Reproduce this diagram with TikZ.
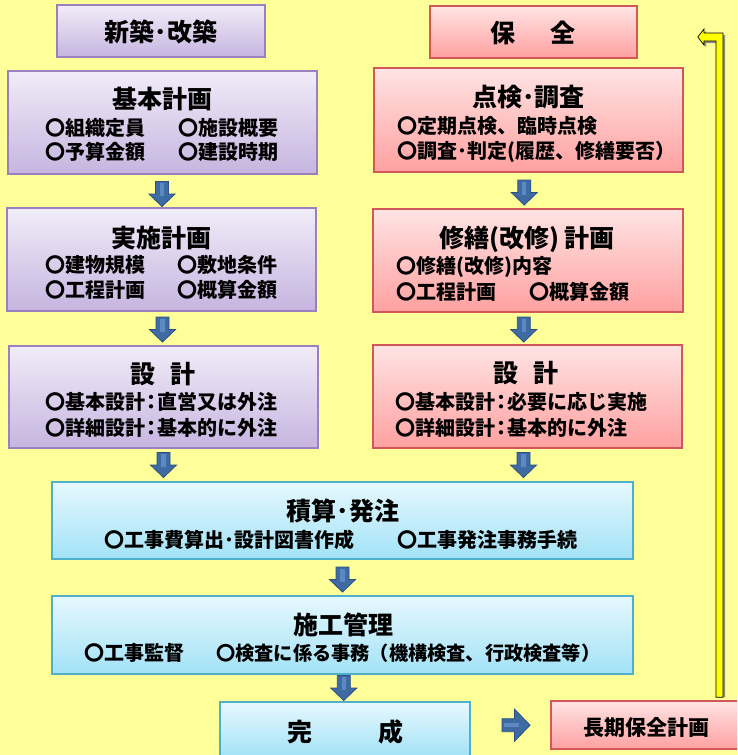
\documentclass[tikz,border=0pt]{standalone}
\usepackage{fontspec}
\IfFontExistsTF{Noto Sans CJK JP Black}
  {\setmainfont{Noto Sans CJK JP}[BoldFont={Noto Sans CJK JP Black}]}
  {\setmainfont{Noto Sans CJK JP}[BoldFont={Noto Sans CJK JP Bold}]}
\usetikzlibrary{calc}
\definecolor{bgy}{HTML}{FFFF99}
\definecolor{ptop}{HTML}{F1ECF8}
\definecolor{pbot}{HTML}{C6B5E0}
\definecolor{pedge}{HTML}{9A80BE}
\definecolor{rtop}{HTML}{FFE4E4}
\definecolor{rbot}{HTML}{FFA0A0}
\definecolor{redge}{HTML}{D0585A}
\definecolor{btop}{HTML}{E6F8FE}
\definecolor{bbot}{HTML}{A2E2F7}
\definecolor{bedge}{HTML}{4FB0CC}
\definecolor{arrf}{HTML}{3F6BA3}
\definecolor{arre}{HTML}{2C5082}
\definecolor{arrh}{HTML}{5C89C2}
\definecolor{yarr}{HTML}{FFFF00}
\begin{document}
\begin{tikzpicture}[x=1pt,y=-1pt,
  box/.style={draw, line width=1.6pt, rectangle, inner sep=0pt, anchor=center},
  pbox/.style={box, draw=pedge, top color=ptop, bottom color=pbot},
  rbox/.style={box, draw=redge, top color=rtop, bottom color=rbot},
  bbox/.style={box, draw=bedge, top color=btop, bottom color=bbot},
  ttl/.style={font=\fontsize{25}{25}\selectfont\bfseries, inner sep=0pt, anchor=center},
  itm/.style={font=\fontsize{20}{20}\selectfont\bfseries, inner sep=0pt, anchor=west},
  downarr/.pic={
    \path[fill=arrf, draw=arre, line width=0.8pt] (-6.5,-12.5) -- (6.5,-12.5) -- (6.5,0) -- (13,0) -- (0,12.5) -- (-13,0) -- (-6.5,0) -- cycle;
    \fill[arrh] (-2.2,-11) rectangle (2.2,2);
  },
  rightarr/.pic={
    \path[fill=arrf, draw=arre, line width=0.8pt] (-14,-6.5) -- (-1.5,-6.5) -- (-1.5,-16) -- (14,0) -- (-1.5,16) -- (-1.5,6.5) -- (-14,6.5) -- cycle;
    \fill[arrh] (-12,-2.2) rectangle (3,2.2);
  }
]
\clip (0,0) rectangle (737,755);
\fill[bgy] (0,0) rectangle (737,755);

% boxes
\node[pbox, minimum width=208pt, minimum height=52pt] (shinchiku) at (161,31) {};
\node[rbox, minimum width=207pt, minimum height=52pt] (hozen) at (533.5,32) {};
\node[pbox, minimum width=309pt, minimum height=103pt] (kihon) at (162.5,122.5) {};
\node[rbox, minimum width=309pt, minimum height=104pt] (tenken) at (528.5,120) {};
\node[pbox, minimum width=309pt, minimum height=103pt] (jisshi) at (161.5,259.5) {};
\node[rbox, minimum width=310pt, minimum height=103pt] (shuzen) at (528,260.5) {};
\node[pbox, minimum width=309pt, minimum height=102pt] (sekkeiL) at (163.5,397) {};
\node[rbox, minimum width=309pt, minimum height=103pt] (sekkeiR) at (527.5,396.5) {};
\node[bbox, minimum width=581pt, minimum height=77pt] (sekisan) at (342.5,520.5) {};
\node[bbox, minimum width=581pt, minimum height=78pt] (sekou) at (342.5,635) {};
\node[bbox, minimum width=250pt, minimum height=56pt] (kansei) at (345,730) {};
\node[rbox, minimum width=194pt, minimum height=48pt] (choki) at (648,725) {};

% texts
\node[ttl] (shinchikuT) at (161,32) {新築･改築};
\node[ttl] (hozenT) at (533,33) {保\hspace{35pt}全};

\node[ttl] (kihonT) at (162.5,99) {基本計画};
\node[itm] (kihonA) at (45,128) {〇組織定員};
\node[itm] (kihonB) at (178,128) {〇施設概要};
\node[itm] (kihonC) at (45,152) {〇予算金額};
\node[itm] (kihonD) at (178,152) {〇建設時期};

\node[ttl] (tenkenT) at (528.5,97) {点検･調査};
\node[itm] (tenkenA) at (397,126) {〇定期点検、臨時点検};
\node[itm] (tenkenB) at (397,152) {〇調査･判定(履歴、修繕要否）};

\node[ttl] (jisshiT) at (161.5,238) {実施計画};
\node[itm] (jisshiA) at (45,265) {〇建物規模};
\node[itm] (jisshiB) at (177,265) {〇敷地条件};
\node[itm] (jisshiC) at (45,290) {〇工程計画};
\node[itm] (jisshiD) at (177,290) {〇概算金額};

\node[ttl] (shuzenT) at (527,239) {修繕(改修) 計画};
\node[itm] (shuzenA) at (396,267) {〇修繕(改修)内容};
\node[itm] (shuzenB) at (396,292) {〇工程計画};
\node[itm] (shuzenC) at (529,292) {〇概算金額};

\node[ttl] (sekkeiLT) at (162.5,374) {設\hspace{15pt}計};
\node[itm] (sekkeiLA) at (45,402) {〇基本設計\hspace{-4pt}：\hspace{-4pt}直営又は外注};
\node[itm] (sekkeiLB) at (45,428) {〇詳細設計\hspace{-4pt}：\hspace{-4pt}基本的に外注};

\node[ttl] (sekkeiRT) at (525.5,373) {設\hspace{15pt}計};
\node[itm] (sekkeiRA) at (395,402) {〇基本設計\hspace{-4pt}：\hspace{-4pt}必要に応じ実施};
\node[itm] (sekkeiRB) at (395,428) {〇詳細設計\hspace{-4pt}：\hspace{-4pt}基本的に外注};

\node[ttl] (sekisanT) at (343,511) {積算･発注};
\node[itm] (sekisanA) at (104,540) {〇工事費算出･設計図書作成};
\node[itm] (sekisanB) at (397,540) {〇工事発注事務手続};

\node[ttl] (sekouT) at (343,625) {施工管理};
\node[itm] (sekouA) at (84,653) {〇工事監督};
\node[itm, font=\fontsize{19.2}{20}\selectfont\bfseries] (sekouB) at (216,653) {〇検査に係る事務（機構検査、行政検査等）};

\node[ttl] (kanseiT) at (345,732) {完\hspace{66pt}成};
\node[font=\fontsize{21}{21}\selectfont\bfseries, inner sep=0pt] (chokiT) at (646,727) {長期保全計画};

% block arrows (connectors)
\pic at ($(kihon.south)!0.5!(jisshi.north)+(0,3)$) {downarr};
\pic at ($(jisshi.south)!0.5!(sekkeiL.north)+(0,1)$) {downarr};
\pic at ($(sekkeiL.south)!0.5!(sekkeiL.south |- sekisan.north)$) {downarr};
\pic at ($(tenken.south)!0.5!(shuzen.north)+(-4,2)$) {downarr};
\pic at ($(shuzen.south)!0.5!(sekkeiR.north)+(-4,1)$) {downarr};
\pic at ($(sekkeiR.south)!0.5!(sekkeiR.south |- sekisan.north)+(-4,0)$) {downarr};
\pic at ($(sekisan.south)!0.5!(sekou.north)+(0,2)$) {downarr};
\pic at ($(sekou.south)!0.5!(kansei.north)$) {downarr};
\pic at ($(kansei.east)!0.57!(choki.west)+(0,-2)$) {rightarr};

% yellow return arrow from choki to hozen
\coordinate (ybot) at ($(choki.north)+(0,-3)$);
\coordinate (ytip) at ($(hozen.east)+(60,5)$);
\def\yarrowpath{(716,0 |- ybot) -- (716,41) -- (704,41) -- (704,45) -- (ytip) -- (704,29) -- (704,33) -- (723,33) -- (723,0 |- ybot) -- cycle}
\fill[black!45] ($(716,0 |- ybot)+(2,0)$) -- (718,43) -- (706,43) -- (706,47) -- (699,39) -- (706,31) -- (706,35) -- (725,35) -- ($(723,0 |- ybot)+(2,0)$) -- cycle;
\path[fill=yarr, draw=black, line width=0.7pt] \yarrowpath;
\end{tikzpicture}
\end{document}
